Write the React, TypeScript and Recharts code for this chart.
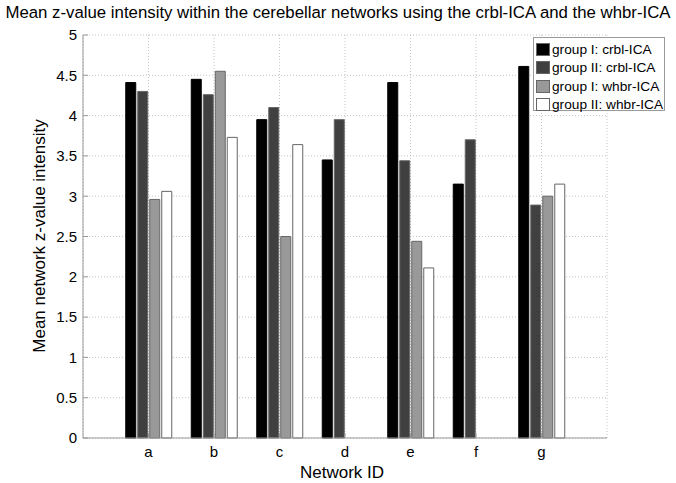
import { BarChart, Bar, XAxis, YAxis, CartesianGrid, Legend } from 'recharts';

const networks = ['a', 'b', 'c', 'd', 'e', 'f', 'g'];
const group1Crbl = [4.41, 4.45, 3.95, 3.45, 4.41, 3.15, 4.61];
const group2Crbl = [4.3, 4.26, 4.1, 3.95, 3.44, 3.7, 2.89];
const group1Whbr = [2.96, 4.55, 2.5, null, 2.44, null, 3.0];
const group2Whbr = [3.06, 3.73, 3.64, null, 2.11, null, 3.15];
const yTicks = [0, 0.5, 1, 1.5, 2, 2.5, 3, 3.5, 4, 4.5, 5];

const seriesNames = ['group I: crbl-ICA', 'group II: crbl-ICA', 'group I: whbr-ICA', 'group II: whbr-ICA'];
const seriesKeys = ['g1c', 'g2c', 'g1w', 'g2w'];
const seriesColors = ['#000000', '#404040', '#999999', '#ffffff'];

const chartData = networks.map((n, i) => ({
    network: n,
    g1c: group1Crbl[i],
    g2c: group2Crbl[i],
    g1w: group1Whbr[i],
    g2w: group2Whbr[i],
}));

const FONT = '"Liberation Sans", Arial, Helvetica, sans-serif';
const AXIS = '#9a9a9a';

const renderLegend = () => (
    <div
        style={{
            border: `1px solid ${AXIS}`,
            background: '#fff',
            width: 132,
            height: 74,
            padding: '2px 0 0 2px',
            boxSizing: 'border-box',
            fontFamily: FONT,
            fontSize: 13.7,
            color: '#000',
            whiteSpace: 'nowrap',
        }}
    >
        {seriesNames.map((name, i) => (
            <div key={name} style={{ display: 'flex', alignItems: 'center', height: 18.5 }}>
                <span
                    style={{
                        width: 14,
                        height: 13,
                        flexShrink: 0,
                        background: seriesColors[i],
                        border: '1px solid #666',
                        boxSizing: 'border-box',
                        marginRight: 2,
                    }}
                />
                <span>{name}</span>
            </div>
        ))}
    </div>
);

export default function App() {
    return (
        <div style={{ position: 'relative', width: 676, height: 483, background: '#fff', fontFamily: FONT }}>
            <style>{'body{margin:0}'}</style>

            {/* Title */}
            <div
                style={{
                    position: 'absolute',
                    top: 3,
                    left: 0,
                    width: 676,
                    textAlign: 'center',
                    fontSize: 16.8,
                    whiteSpace: 'nowrap',
                    color: '#000',
                }}
            >
                Mean z-value intensity within the cerebellar networks using the crbl-ICA and the whbr-ICA
            </div>

            <BarChart
                width={676}
                height={483}
                data={chartData}
                margin={{ top: 35, right: 69, bottom: 15, left: 43 }}
                barCategoryGap={10}
                barGap={2}
            >
                <CartesianGrid stroke="#c4c4c4" strokeDasharray="1 2" />
                <XAxis
                    dataKey="network"
                    height={30}
                    padding={{ left: 32.75, right: 32.75 }}
                    stroke={AXIS}
                    tickSize={-5}
                    tickMargin={13}
                    tick={{ fill: '#000', fontSize: 15, fontFamily: FONT }}
                />
                <XAxis
                    xAxisId="top"
                    dataKey="network"
                    orientation="top"
                    height={0}
                    padding={{ left: 32.75, right: 32.75 }}
                    stroke={AXIS}
                    tick={false}
                />
                <YAxis
                    domain={[0, 5]}
                    ticks={yTicks}
                    width={40}
                    stroke={AXIS}
                    tickSize={-5}
                    tickMargin={11}
                    interval={0}
                    tick={{ fill: '#000', fontSize: 15, fontFamily: FONT }}
                />
                <YAxis yAxisId="right" orientation="right" domain={[0, 5]} width={0} stroke={AXIS} tick={false} />
                <Legend
                    layout="vertical"
                    align="center"
                    verticalAlign="middle"
                    content={renderLegend}
                    wrapperStyle={{ left: 533, top: 37, width: 134 }}
                />
                {seriesKeys.map((k, i) => (
                    <Bar
                        key={k}
                        dataKey={k}
                        name={seriesNames[i]}
                        fill={seriesColors[i]}
                        stroke={i === 0 ? '#000' : '#666'}
                        strokeWidth={1}
                        isAnimationActive={false}
                    />
                ))}
            </BarChart>

            {/* Y-axis label */}
            <div
                style={{
                    position: 'absolute',
                    left: 40,
                    top: 236,
                    transform: 'translate(-50%, -50%) rotate(-90deg)',
                    fontSize: 17,
                    whiteSpace: 'nowrap',
                    color: '#000',
                }}
            >
                Mean network z-value intensity
            </div>

            {/* X-axis label */}
            <div
                style={{
                    position: 'absolute',
                    left: 342,
                    top: 473,
                    transform: 'translate(-50%, -50%)',
                    fontSize: 17,
                    lineHeight: '18px',
                    whiteSpace: 'nowrap',
                    color: '#000',
                }}
            >
                Network ID
            </div>
        </div>
    );
}
